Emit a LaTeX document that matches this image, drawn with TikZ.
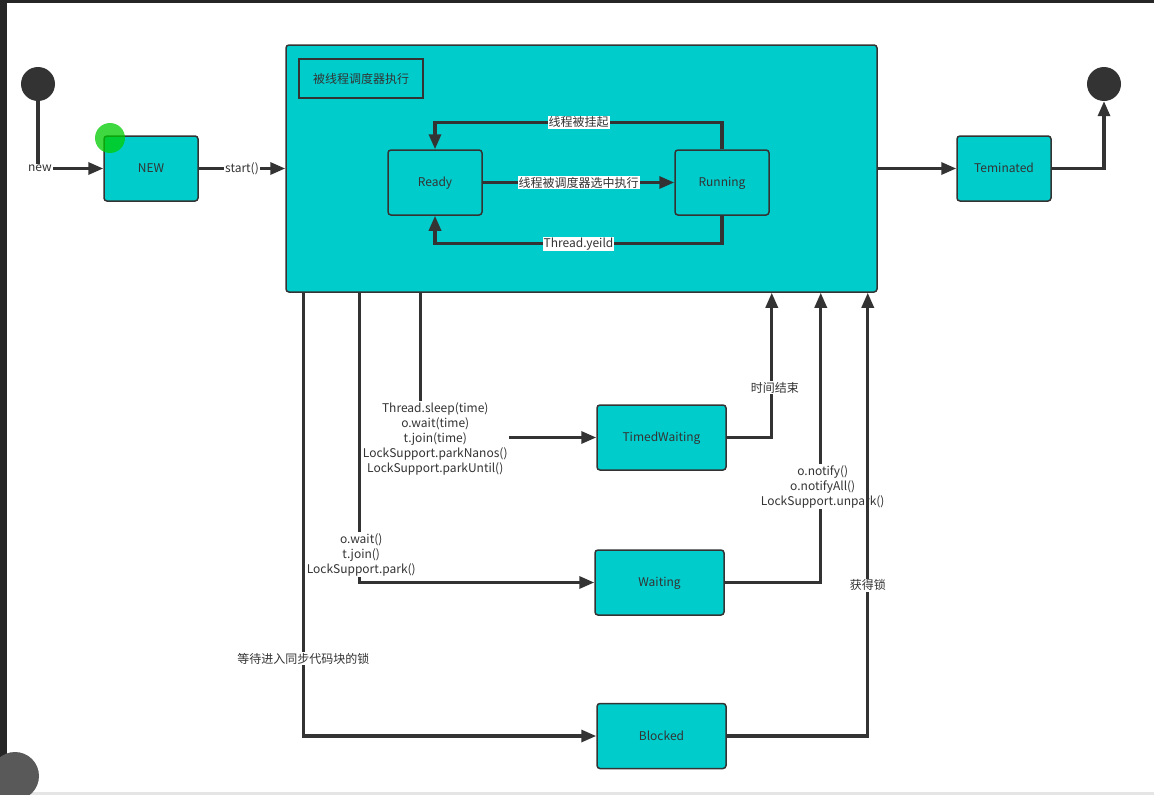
\documentclass[tikz,border=0pt]{standalone}
\usepackage{fontspec}
\setmainfont{Noto Sans CJK SC}
\usetikzlibrary{arrows.meta, positioning}
\definecolor{tealfill}{HTML}{00CCCC}
\definecolor{ink}{HTML}{333333}

\begin{document}
\begin{tikzpicture}[x=1pt, y=-1pt,
    font=\fontsize{12}{15}\selectfont,
    state/.style={draw=ink, line width=1.5pt, fill=tealfill, rounded corners=3pt,
        minimum width=94pt, minimum height=65pt, text=ink, inner sep=0pt,
        text depth=1pt},
    flow/.style={draw=ink, line width=3.2pt, -{Triangle[length=15pt,width=12pt]}},
    lbl/.style={fill=white, inner sep=1pt, text=ink, align=center},
    dot/.style={circle, fill=ink, minimum size=34pt, inner sep=0pt}]

    % Hintergrund und Bildschirmrand
    \useasboundingbox (0,0) rectangle (1154,795);
    \fill[white] (0,0) rectangle (1154,795);
    \fill[black!85] (0,0) rectangle (7,795);
    \fill[black!85] (0,0) rectangle (1154,3);
    \fill[black!10] (0,792) rectangle (1154,795);

    % Start- und Endpunkt
    \node[dot] (start) at (38,84) {};
    \node[dot] (end) at (1104,84) {};

    % Zustaende
    \node[state] (new) at (151,168.5) {NEW};
    \node[state, minimum width=591pt, minimum height=247pt] (sched) at (581.5,168.5) {};
    \node[draw=ink, line width=1.5pt, minimum width=124pt, minimum height=39pt, text=ink,
        inner sep=0pt] (title) at (361,78.5) {被线程调度器执行};
    \node[state] (ready) at (435,182.5) {Ready};
    \node[state] (run) at (722,182.5) {Running};
    \node[state] (term) at (1004,168.5) {Teminated};
    \node[state, minimum width=129pt] (tw) at (661.5,437.5) {TimedWaiting};
    \node[state, minimum width=129pt] (wt) at (659.5,582.5) {Waiting};
    \node[state, minimum width=129pt] (bl) at (661.5,736) {Blocked};

    % Ausgaenge unten und Eingaenge unten am Scheduler
    \coordinate (outB) at ([xshift=18pt]sched.south west);
    \coordinate (outW) at ([xshift=74pt]sched.south west);
    \coordinate (outT) at ([xshift=135pt]sched.south west);
    \coordinate (inT) at ([xshift=-106pt]sched.south east);
    \coordinate (inW) at ([xshift=-57pt]sched.south east);
    \coordinate (inB) at ([xshift=-10pt]sched.south east);

    % Uebergaenge oben
    \draw[flow] (start.south) |- node[lbl, pos=0.5, xshift=2pt] {new} (new.west);
    \draw[flow] (new.east) -- node[lbl] {start()} (new.east -| sched.west);
    \draw[flow] (sched.east |- term) -- (term.west);
    \draw[flow] (term.east) -| (end.south);

    % Ready <-> Running
    \draw[flow] (ready.east) -- node[lbl] {线程被调度器选中执行} (run.west);
    \draw[flow] (run.north) -- ++(0,-27) -| node[lbl, pos=0.25] {线程被挂起} (ready.north);
    \draw[flow] (run.south) -- ++(0,28) -| node[lbl, pos=0.25] {Thread.yeild} (ready.south);

    % Wartezustaende
    \draw[flow] (outT) |- node[lbl, pos=0.5, xshift=15pt, yshift=-1pt]
        {Thread.sleep(time)\\o.wait(time)\\t.join(time)\\LockSupport.parkNanos()\\LockSupport.parkUntil()} (tw.west);
    \draw[flow] (outW) |- node[lbl, pos=0.45, xshift=2pt, yshift=-1pt]
        {o.wait()\\t.join()\\LockSupport.park()} (wt.west);
    \draw[flow] (outB) |- node[lbl, pos=0.413] {等待进入同步代码块的锁} (bl.west);

    % Rueckkehr zum Scheduler
    \draw[flow] (tw.east) -| node[lbl, pos=0.672, xshift=3pt] {时间结束} (inT);
    \draw[flow] (wt.east) -| node[lbl, pos=0.667, xshift=2pt, yshift=-1pt]
        {o.notify()\\o.notifyAll()\\LockSupport.unpark()} (inW);
    \draw[flow] (bl.east) -| node[lbl, pos=0.67] {获得锁} (inB);

    % Mauszeiger und Bildschirmsymbol
    \fill[green!80!black, opacity=0.75] (110,138) circle (15pt);
    \fill[black!65] (15,776) circle (24pt);

\end{tikzpicture}
\end{document}
